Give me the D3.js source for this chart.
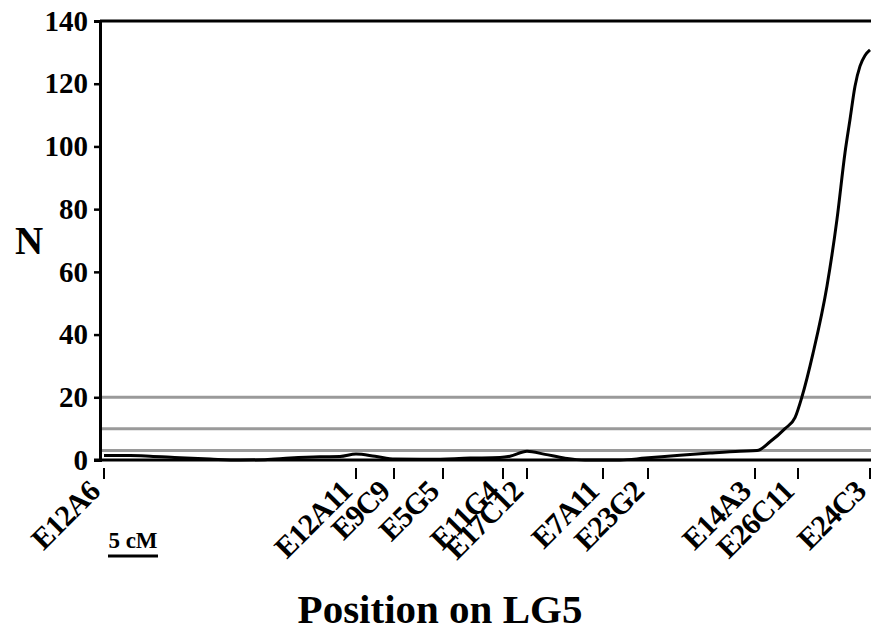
<!DOCTYPE html>
<html>
<head>
<meta charset="utf-8">
<script src="https://cdn.jsdelivr.net/npm/d3@7"></script>
<style>
  body { margin: 0; background: #fff; }
  text { font-family: "Liberation Serif", "Times New Roman", serif; font-weight: bold; }
</style>
</head>
<body>
<script>
'use strict';

// markers on LG5 (position in cM)
const markerNames = ["E12A6", "E12A11", "E9C9", "E5G5", "E11G4", "E17C12", "E7A11", "E23G2", "E14A3", "E26C11", "E24C3"];
const markerPos = [0, 25.2, 29.0, 33.9, 39.9, 42.3, 49.9, 54.4, 65.1, 69.4, 76.6];

// curve: position (cM) and N
const curvePos = [0, 2.6, 4.6, 7.6, 10.6, 13.6, 16.1, 18.6, 21.6, 23.6, 25.2, 27.1, 29.1, 32.6, 36.6, 39.6, 40.6, 42.3, 44.1, 46.1, 48.1, 51.6, 54.1, 57.6, 60.6, 63.6, 65.3, 66.6, 68.1, 69.1, 69.8, 70.9, 72.3, 73.3, 74.1, 74.6, 75.1, 75.6, 76.1, 76.6];
const curveN = [1.4, 1.4, 1.2, 0.7, 0.3, 0.0, 0.1, 0.6, 1.0, 1.1, 1.9, 1.2, 0.3, 0.2, 0.6, 0.8, 1.2, 2.8, 1.8, 0.6, 0.0, 0.0, 0.6, 1.5, 2.2, 2.8, 3.0, 5.8, 10.0, 13.5, 20.2, 34, 55.5, 76.8, 98, 108.6, 119.2, 125.6, 129, 130.8];

// threshold lines
const thresholds = [20, 10, 3];
const yTicks = [0, 20, 40, 60, 80, 100, 120, 140];

(function () {
    const width = 871, height = 631;
    const mLeft = 100, mRight = 871, mTop = 21, mBottom = 460;

    const svg = d3.select("body").append("svg")
        .attr("width", width)
        .attr("height", height);

    const x = d3.scaleLinear().domain([-0.4, 76.7]).range([mLeft, mRight]);
    const y = d3.scaleLinear().domain([0, 140]).range([mBottom, mTop]);

    // thresholds
    svg.append("g").selectAll("line")
        .data(thresholds)
        .enter().append("line")
        .attr("x1", mLeft).attr("x2", mRight)
        .attr("y1", d => y(d)).attr("y2", d => y(d))
        .attr("stroke", "#9a9a9a")
        .attr("stroke-width", 3);

    // y axis
    const yAxis = svg.append("g")
        .attr("transform", `translate(${mLeft},0)`)
        .call(d3.axisLeft(y).tickValues(yTicks).tickSize(6).tickPadding(6).tickFormat(d3.format("d")));
    yAxis.select(".domain").attr("stroke", "#000").attr("stroke-width", 3);
    yAxis.selectAll(".tick line").attr("stroke-width", 2.5);
    yAxis.selectAll("text").attr("font-size", 29).attr("fill", "#000")
        .attr("font-family", "Liberation Serif").attr("font-weight", "bold");

    // top border and zero line
    svg.append("line").attr("x1", mLeft).attr("x2", mRight).attr("y1", mTop).attr("y2", mTop)
        .attr("stroke", "#000").attr("stroke-width", 3);
    svg.append("line").attr("x1", mLeft - 6).attr("x2", mRight).attr("y1", mBottom).attr("y2", mBottom)
        .attr("stroke", "#000").attr("stroke-width", 3);

    // curve
    const line = d3.line()
        .x(d => x(d[0]))
        .y(d => y(d[1]))
        .curve(d3.curveMonotoneX);
    svg.append("path")
        .datum(curvePos.map((p, i) => [p, curveN[i]]))
        .attr("d", line)
        .attr("fill", "none")
        .attr("stroke", "#000")
        .attr("stroke-width", 3);

    // marker ticks + labels
    const mk = svg.append("g").selectAll("g")
        .data(markerNames)
        .enter().append("g")
        .attr("transform", (d, i) => `translate(${x(markerPos[i])},0)`);
    mk.append("line")
        .attr("y1", 468).attr("y2", 479)
        .attr("stroke", "#000").attr("stroke-width", 2);
    mk.append("text")
        .attr("transform", "translate(-9,487) rotate(-45)")
        .attr("text-anchor", "end")
        .attr("dy", "0.3em")
        .attr("font-size", 30)
        .attr("letter-spacing", -1)
        .text(d => d);

    // scale bar 5 cM
    svg.append("line")
        .attr("x1", x(0.4)).attr("x2", x(5.4))
        .attr("y1", 556).attr("y2", 556)
        .attr("stroke", "#000").attr("stroke-width", 3);
    svg.append("text")
        .attr("x", x(2.9)).attr("y", 548)
        .attr("text-anchor", "middle")
        .attr("font-size", 23)
        .text("5 cM");

    // axis titles
    svg.append("text")
        .attr("x", 29).attr("y", 254)
        .attr("text-anchor", "middle")
        .attr("font-size", 39)
        .text("N");
    svg.append("text")
        .attr("x", 440).attr("y", 623)
        .attr("text-anchor", "middle")
        .attr("font-size", 41)
        .text("Position on LG5");
})();
</script>
</body>
</html>
